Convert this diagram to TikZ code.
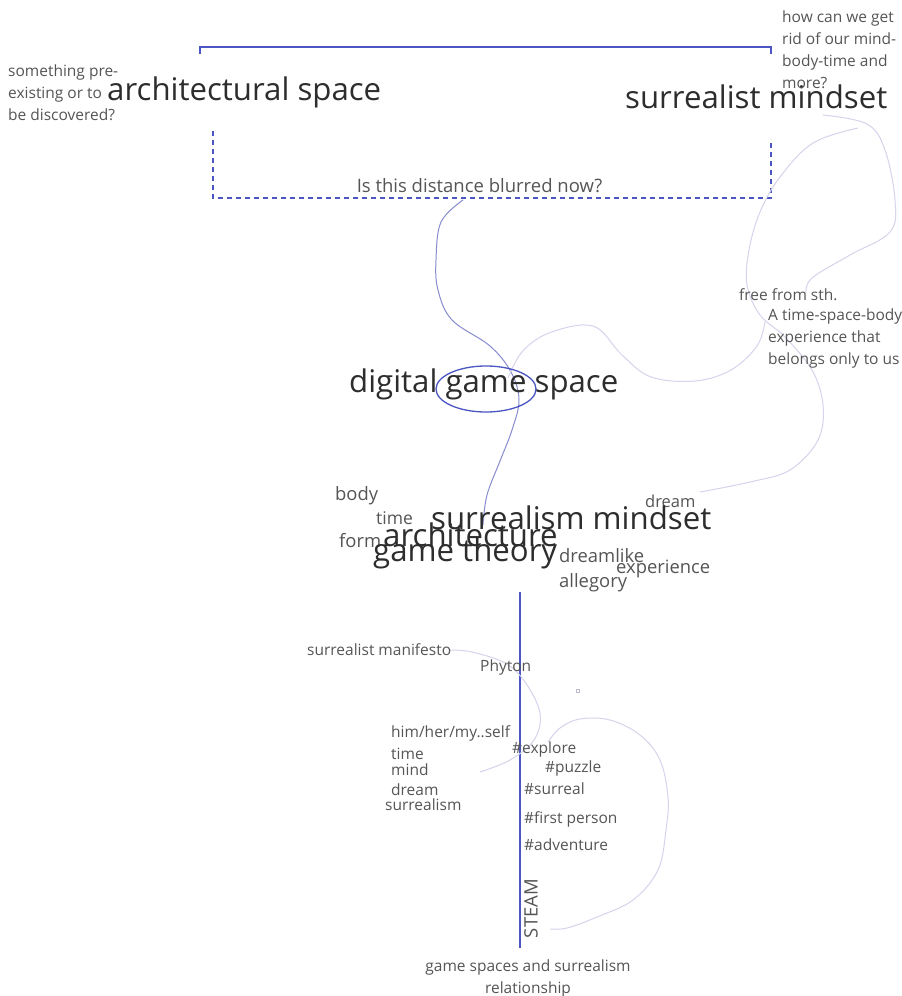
\documentclass[tikz,border=0pt]{standalone}
\usepackage{fontspec}
\setmainfont{Open Sans}
\definecolor{linkblue}{RGB}{75,85,195}
\definecolor{midcurve}{RGB}{135,140,205}
\definecolor{lightcurve}{RGB}{212,212,236}
\definecolor{bigtext}{RGB}{45,45,45}
\definecolor{smalltext}{RGB}{85,85,85}
\begin{document}
\begin{tikzpicture}[x=1pt,y=-1pt,
  big/.style={inner sep=0pt,text=bigtext,font=\fontsize{31.2}{36}\selectfont},
  mid/.style={inner sep=0pt,text=smalltext,font=\fontsize{18.4}{22}\selectfont},
  small/.style={inner sep=0pt,text=smalltext,font=\fontsize{15.5}{21.9}\selectfont,align=left},
  solidlink/.style={draw=linkblue,line width=1.3pt},
  dashlink/.style={draw=linkblue,line width=1.3pt,dashed,dash pattern=on 5pt off 4pt},
  lightline/.style={draw=lightcurve,line width=1pt},
  midline/.style={draw=midcurve,line width=1pt}]
\useasboundingbox (0,0) rectangle (902,996);
\fill[white] (0,0) rectangle (902,996);

% top brackets
\coordinate (bl) at (200,54);
\coordinate (br) at (771,54);
\draw[solidlink] (bl) -- (200,47) -- (771,47) -- (br);
\coordinate (dl) at (213,131);
\coordinate (dr) at (771,139);
\draw[dashlink] (dl) -- (213,198) -- (771,198) -- (dr);

% top texts
\node[big,anchor=west] (arch) at (107,92) {architectural space};
\node[big,anchor=west] (surr) at (625,97) {surrealist mindset};
\node[small,anchor=north west] (pre) at (8,65) {something pre-\\existing or to\\be discovered?};
\node[small,anchor=north west] (how) at (782,11) {how can we get\\rid of our mind-\\body-time and\\more?};
\node[inner sep=0pt,text=smalltext,font=\fontsize{18.5}{22}\selectfont] (blur) at (479.5,186) {Is this distance blurred now?};

% curves
\draw[midline] plot[smooth,tension=0.6] coordinates {(463,200) (441,222) (436,260) (438,290) (452,320) (490,346) (511,372) (519,400) (512,430) (500,461) (487,495) (483,525)};
\draw[lightline] plot[smooth,tension=0.6] coordinates {(508,378) (522,352) (549,333) (593,326) (622,355) (651,377) (695,381) (731,370) (757,346) (765,322)};
\draw[lightline] plot[smooth,tension=0.6] coordinates {(823,115) (867,124) (885,150) (895,200) (890,232) (850,255) (812,278) (806,293)};
\draw[lightline] plot[smooth,tension=0.6] coordinates {(858,128) (813,143) (780,177) (760,212) (749,250) (747,285) (760,315) (785,337) (812,370) (823,405) (818,440) (790,470) (750,482) (700,492)};

% middle
\node[big,anchor=west] (dgs) at (349,384) {digital game space};
\draw[linkblue,line width=1.3pt] (486,389) ellipse [x radius=50,y radius=23];
\node[small,anchor=west] (free) at (739,295) {free from sth.};
\node[small,anchor=north west] (tsb) at (768,309) {A time-space-body\\experience that\\belongs only to us};

% word cloud
\node[mid,anchor=west] (body) at (335,496) {body};
\node[mid,anchor=west,font=\fontsize{17.5}{21}\selectfont] (wtime) at (376,518) {time};
\node[mid,anchor=west] (form) at (339,541) {form};
\node[mid,anchor=west,font=\fontsize{16.5}{20}\selectfont] (wdream) at (645,501) {dream};
\node[big,anchor=west] (smind) at (431,518) {surrealism mindset};
\node[big,anchor=west] (archi) at (383,535) {architecture};
\node[big,anchor=west] (gthe) at (373,553) {game theory};
\node[mid,anchor=west] (dlike) at (559,556) {dreamlike};
\node[mid,anchor=west] (exper) at (616,569) {experience};
\node[mid,anchor=west] (alleg) at (559,583) {allegory};

% bottom axis
\coordinate (vtop) at (520,592);
\coordinate (vbot) at (520,948);
\draw[solidlink] (vtop) -- (vbot);

\draw[lightline] plot[smooth,tension=0.6] coordinates {(450,650) (472,652) (505,663) (525,682) (540,713) (534,740) (510,760) (480,772)};
\draw[lightline] plot[smooth,tension=0.6] coordinates {(548,742) (560,728) (580,719) (610,720) (640,735) (660,760) (668,797) (666,830) (658,870) (633,900) (597,917) (567,928) (550,929)};
\draw[lightcurve!70!gray,line width=0.5pt] (576.5,689.5) rectangle (579.5,692.5);

\node[small,anchor=west] (manif) at (307,650) {surrealist manifesto};
\node[small,anchor=west] (phy) at (480,667) {Phyton};
\node[small,anchor=west] (him) at (391,733) {him/her/my..self};
\node[small,anchor=west] (btime) at (391,754) {time};
\node[small,anchor=west] (bmind) at (391,770) {mind};
\node[small,anchor=west] (bdream) at (391,790) {dream};
\node[small,anchor=west] (bsurr) at (385,805) {surrealism};
\node[small,anchor=west] (explore) at (512,749) {\#explore};
\node[small,anchor=west] (puzzle) at (545,768) {\#puzzle};
\node[small,anchor=west] (surreal) at (524,789) {\#surreal};
\node[small,anchor=west] (first) at (524,819) {\#first person};
\node[small,anchor=west] (adv) at (524,845) {\#adventure};
\node[small,rotate=90,font=\fontsize{18.5}{22}\selectfont] (steam) at (531,908.5) {STEAM};
\node[small,align=center,anchor=north] (rel) at (528,960) {game spaces and surrealism\\relationship};
\end{tikzpicture}
\end{document}
